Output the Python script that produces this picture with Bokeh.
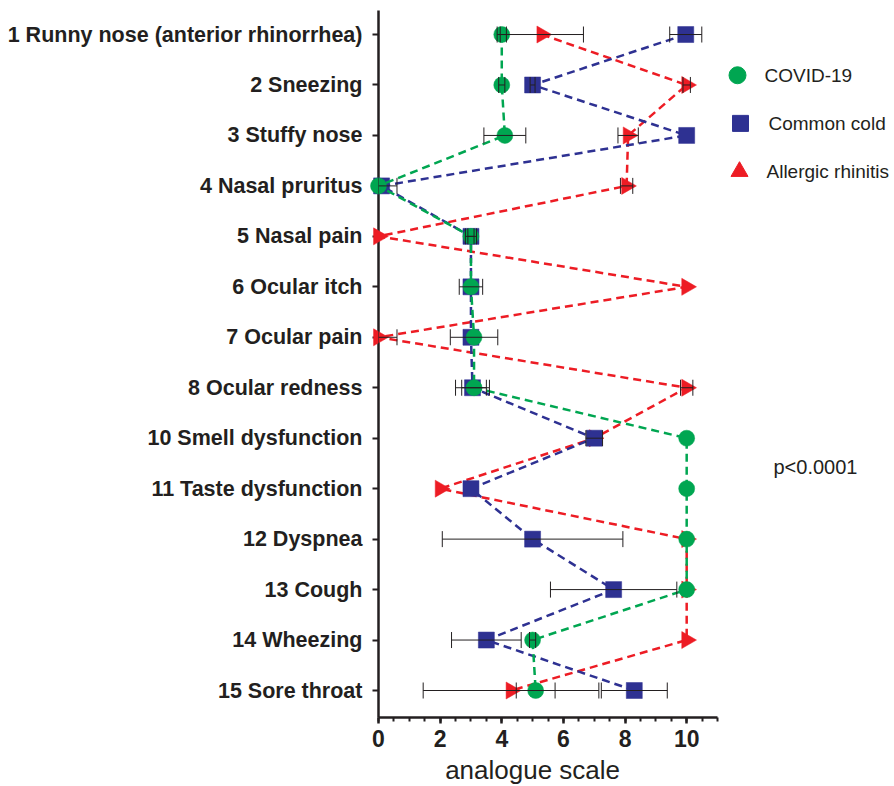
import numpy as np
from bokeh.plotting import figure
from bokeh.models import ColumnDataSource, Whisker, TeeHead, FixedTicker, SingleIntervalTicker, Range1d
from bokeh.layouts import row
from bokeh.embed import file_html
from bokeh.resources import INLINE
from bokeh.core.properties import value

symptoms = ["1 Runny nose (anterior rhinorrhea)", "2 Sneezing", "3 Stuffy nose", "4 Nasal pruritus",
            "5 Nasal pain", "6 Ocular itch", "7 Ocular pain", "8 Ocular redness",
            "10 Smell dysfunction", "11 Taste dysfunction", "12 Dyspnea", "13 Cough",
            "14 Wheezing", "15 Sore throat"]
covid = [4.0, 4.0, 4.1, 0.0, 3.0, 3.0, 3.1, 3.1, 10.0, 10.0, 10.0, 10.0, 5.0, 5.1]
covid_err = [0.15, 0.1, 0.68, 0.0, 0.18, 0.0, 0.77, 0.4, 0.0, 0.0, 0.0, 0.0, 0.1, 0.63]
cold = [9.97, 5.0, 10.0, 0.1, 3.0, 3.0, 3.0, 3.05, 7.0, 3.0, 5.0, 7.63, 3.5, 8.3]
cold_err = [0.52, 0.08, 0.0, 0.5, 0.1, 0.38, 0.0, 0.55, 0.27, 0.0, 2.93, 2.05, 1.13, 1.07]
allergic = [5.3, 10.0, 8.1, 8.05, 0.0, 10.0, 0.0, 10.0, 7.0, 2.0, 10.0, 10.0, 10.0, 4.3]
allergic_err = [1.35, 0.12, 0.33, 0.2, 0.0, 0.0, 0.6, 0.2, 0.0, 0.0, 0.0, 0.0, 0.0, 2.85]
series_names = ["COVID-19", "Common cold", "Allergic rhinitis"]
p_text = "p<0.0001"
x_title = "analogue scale"

GREEN = "#00A651"
BLUE = "#2E3192"
RED = "#ED1C24"
INK = "#231F20"
FONT = "Liberation Sans"

ypos = list(range(1, len(symptoms) + 1))
Y_BOTTOM, Y_TOP = 14.535, 0.524
FRAME_H = 707
row_px = FRAME_H / (Y_BOTTOM - Y_TOP)

p = figure(frame_width=339, frame_height=FRAME_H, min_border_left=378, min_border_right=10,
           min_border_top=10, min_border_bottom=69,
           x_range=Range1d(0, 11), y_range=Range1d(Y_BOTTOM, Y_TOP),
           output_backend="svg", toolbar_location=None)
p.outline_line_color = None
p.xgrid.visible = False
p.ygrid.visible = False

series = [
    (allergic, allergic_err, RED, "triangle", -np.pi / 2, 17),
    (cold, cold_err, BLUE, "square", 0.0, 16),
    (covid, covid_err, GREEN, "circle", 0.0, 16),
]
for vals, errs, col, mk, ang, sz in series:
    src = ColumnDataSource(dict(x=vals, y=ypos))
    p.line("x", "y", source=src, line_color=col, line_width=2.5, line_dash="8 5", level="overlay")
    p.scatter("x", "y", source=src, marker=mk, angle=ang, size=sz, fill_color=col,
              line_color=col, line_width=0.5, level="overlay")

for vals, errs, col, mk, ang, sz in series:
    idx = [i for i, e in enumerate(errs) if e > 0]
    wsrc = ColumnDataSource(dict(
        base=[ypos[i] for i in idx],
        lower=[max(vals[i] - errs[i], 0.0) for i in idx],
        upper=[vals[i] + errs[i] for i in idx]))
    w = Whisker(source=wsrc, base="base", lower="lower", upper="upper", dimension="width",
                line_color=INK, line_width=1, level="overlay",
                lower_head=TeeHead(size=16, line_color=INK, line_width=1),
                upper_head=TeeHead(size=16, line_color=INK, line_width=1))
    p.add_layout(w)

# x axis
xa = p.xaxis[0]
xa.ticker = SingleIntervalTicker(interval=2, num_minor_ticks=4)
xa.axis_line_width = 2.5
xa.axis_line_color = INK
xa.major_tick_line_width = 2.5
xa.major_tick_line_color = INK
xa.major_tick_out = 6
xa.major_tick_in = 0
xa.minor_tick_line_width = 2
xa.minor_tick_line_color = INK
xa.minor_tick_out = 4
xa.minor_tick_in = 0
xa.major_label_text_font = FONT
xa.major_label_text_font_size = "23px"
xa.major_label_text_font_style = "bold"
xa.major_label_text_color = INK
xa.major_label_standoff = 6

# x-axis title, centred under the 0-10 scale
p.text(x=[5], y=[Y_BOTTOM + 52 / row_px], text=[x_title], text_font=value(FONT),
       text_font_size="26px", text_color=INK, text_align="center",
       text_baseline="middle", level="overlay")

# y axis
ya = p.yaxis[0]
ya.ticker = FixedTicker(ticks=ypos)
ya.major_label_overrides = {y: s for y, s in zip(ypos, symptoms)}
ya.axis_line_width = 2.5
ya.axis_line_color = INK
ya.major_tick_line_width = 2
ya.major_tick_line_color = INK
ya.major_tick_out = 6
ya.major_tick_in = 0
ya.minor_tick_line_color = None
ya.major_label_text_font = FONT
ya.major_label_text_font_size = "21.5px"
ya.major_label_text_font_style = "bold"
ya.major_label_text_color = INK
ya.major_label_standoff = 10

# legend panel
leg = figure(width=167, height=786, x_range=Range1d(0, 167), y_range=Range1d(786, 0),
             min_border_left=0, min_border_right=0, min_border_top=0, min_border_bottom=0,
             output_backend="svg", toolbar_location=None)
leg.axis.visible = False
leg.xgrid.visible = False
leg.ygrid.visible = False
leg.outline_line_color = None
leg_y = [72 + 53.5 * i for i in range(3)]
leg_marks = [("circle", GREEN, 17, 10), ("square", BLUE, 16, 13), ("triangle", RED, 17, 12)]
leg_text_x = [37, 41, 39]
for (mk, col, sz, mx), yy, tx, name in zip(leg_marks, leg_y, leg_text_x, series_names):
    leg.scatter([mx], [yy], marker=mk, size=sz, fill_color=col, line_color=col)
    leg.text([tx], [yy], text=[name], text_font=value(FONT), text_font_size="19px",
             text_color=INK, text_baseline="middle", text_align="left")
leg.text([46], [507], text=[p_text], text_font=value(FONT), text_font_size="20px",
         text_color=INK, text_baseline="middle", text_align="left")

layout = row(p, leg)
open("out.html", "w").write(file_html(layout, INLINE))
